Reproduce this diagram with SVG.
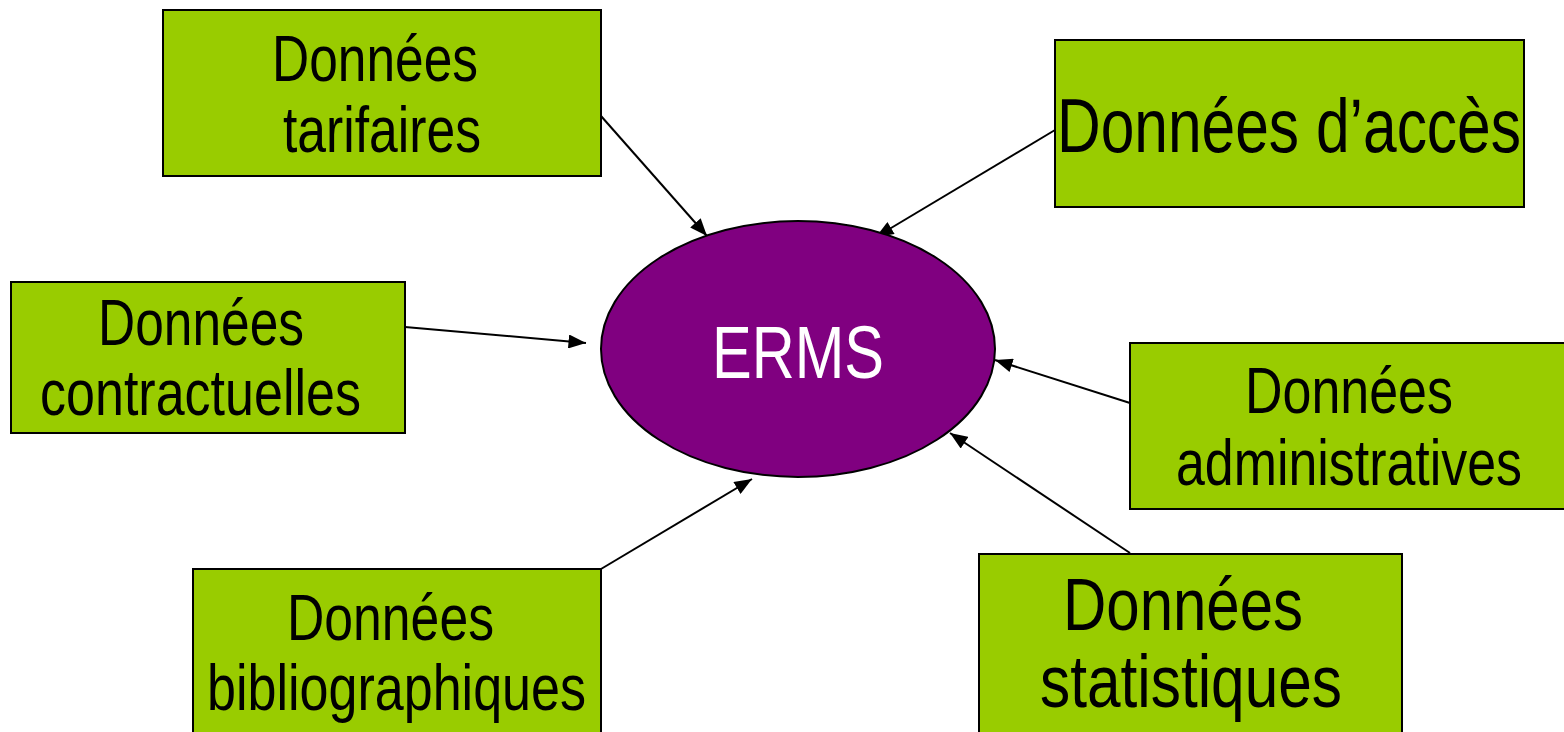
<svg xmlns="http://www.w3.org/2000/svg" width="1564" height="732" viewBox="0 0 1564 732">
<defs>
<style>
.box{fill:#99CC00;stroke:#000;stroke-width:2}
.t{font-family:"Liberation Sans",Arial,sans-serif;fill:#000}
.c{stroke:#000;stroke-width:2;fill:none;marker-end:url(#ah)}
</style>
<marker id="ah" markerWidth="18" markerHeight="14" refX="10" refY="4" orient="auto" markerUnits="userSpaceOnUse" viewBox="0 0 10 8">
<path d="M0,0 L10,4 L0,8 Z" fill="#000"/>
</marker>
</defs>
<rect width="1564" height="732" fill="#fff"/>
<g id="connectors">
<line class="c" x1="601" y1="116" x2="707" y2="236"/>
<line class="c" x1="1055" y1="130" x2="876" y2="237"/>
<line class="c" x1="405" y1="327" x2="586" y2="343"/>
<line class="c" x1="1130" y1="403" x2="995" y2="360"/>
<line class="c" x1="1130" y1="553" x2="950" y2="433"/>
<line class="c" x1="601" y1="569" x2="752" y2="479"/>
</g>
<g id="erms">
<ellipse cx="798" cy="349" rx="197" ry="128" fill="#800080" stroke="#000" stroke-width="2"/>
<text class="t" x="798" y="378" font-size="74" style="fill:#fff" text-anchor="middle" textLength="172" lengthAdjust="spacingAndGlyphs">ERMS</text>
</g>
<g id="tarifaires">
<rect class="box" x="163" y="10" width="438" height="166"/>
<text class="t" x="272" y="81" font-size="64" textLength="206" lengthAdjust="spacingAndGlyphs">Données</text>
<text class="t" x="283" y="152" font-size="64" textLength="198" lengthAdjust="spacingAndGlyphs">tarifaires</text>
</g>
<g id="acces">
<rect class="box" x="1055" y="40" width="469" height="167"/>
<text class="t" x="1057" y="152" font-size="76" textLength="464" lengthAdjust="spacingAndGlyphs">Données d’accès</text>
</g>
<g id="contractuelles">
<rect class="box" x="11" y="282" width="394" height="151"/>
<text class="t" x="98" y="345" font-size="64" textLength="206" lengthAdjust="spacingAndGlyphs">Données</text>
<text class="t" x="40" y="415" font-size="64" textLength="321" lengthAdjust="spacingAndGlyphs">contractuelles</text>
</g>
<g id="administratives">
<rect class="box" x="1130" y="343" width="440" height="166"/>
<text class="t" x="1245" y="413" font-size="64" textLength="208" lengthAdjust="spacingAndGlyphs">Données</text>
<text class="t" x="1176" y="485" font-size="64" textLength="346" lengthAdjust="spacingAndGlyphs">administratives</text>
</g>
<g id="bibliographiques">
<rect class="box" x="193" y="569" width="408" height="175"/>
<text class="t" x="287" y="640" font-size="64" textLength="207" lengthAdjust="spacingAndGlyphs">Données</text>
<text class="t" x="207" y="710" font-size="64" textLength="379" lengthAdjust="spacingAndGlyphs">bibliographiques</text>
</g>
<g id="statistiques">
<rect class="box" x="979" y="554" width="423" height="190"/>
<text class="t" x="1063" y="630" font-size="74" textLength="240" lengthAdjust="spacingAndGlyphs">Données</text>
<text class="t" x="1040" y="707" font-size="74" textLength="302" lengthAdjust="spacingAndGlyphs">statistiques</text>
</g>
</svg>
